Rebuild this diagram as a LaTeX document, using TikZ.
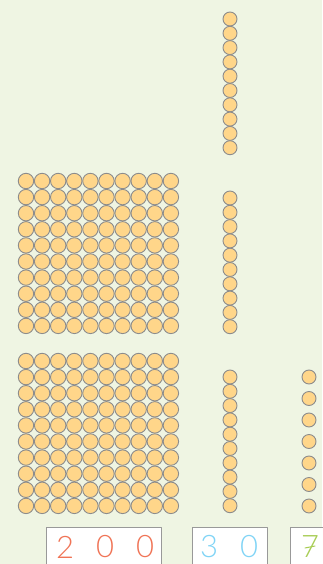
\documentclass[tikz,border=0pt]{standalone}
\usepackage{fontspec}
\setmainfont{Lato}[UprightFont=* Light]
\usetikzlibrary{positioning}
\definecolor{paper}{HTML}{EFF5E3}
\definecolor{bead}{HTML}{FFD68A}
\definecolor{beadline}{HTML}{8C8C8C}
\definecolor{hundreds}{HTML}{F07456}
\definecolor{tens}{HTML}{80D4F6}
\definecolor{ones}{HTML}{A8CD55}
\tikzset{
  bigbead/.style={fill=bead, draw=beadline, line width=0.9pt},
  smallbead/.style={fill=bead, draw=beadline, line width=0.9pt},
  card/.style={draw=black!40, fill=white, line width=0.7pt, inner sep=0pt},
  digit/.style={inner sep=0pt, font=\fontsize{31}{31}\selectfont}
}
\begin{document}
\begin{tikzpicture}[x=1pt,y=-1pt,line cap=round,line join=round]
  \fill[paper] (0,0) rectangle (322,564);
  \useasboundingbox (0,0) rectangle (322,564);

  % two hundred squares
  \foreach \top in {181,361}
    \foreach \i in {0,...,9}
      \foreach \j in {0,...,9}
        \draw[bigbead] ({26+16.1*\i},{\top+16.1*\j}) circle (7.7);

  % three ten rods
  \foreach \top in {19,198,377}
    \foreach \j in {0,...,9}
      \draw[smallbead] (230,{\top+14.3*\j}) circle (7);

  % seven ones
  \foreach \j in {0,...,6}
    \draw[smallbead] (309,{377+21.5*\j}) circle (7);

  % number cards
  \node[card, anchor=north west, minimum width=115pt, minimum height=50pt] (hcard) at (46,527) {};
  \node[card, anchor=north west, minimum width=75pt, minimum height=50pt] (tcard) at (192,527) {};
  \node[card, anchor=north west, minimum width=50pt, minimum height=50pt] (ocard) at (290,527) {};

  \node[digit, text=hundreds] (h1) at (65,547) {2};
  \node[digit, text=hundreds] (h2) at (105,547) {0};
  \node[digit, text=hundreds] (h3) at (145,547) {0};

  \node[digit, text=tens] (t1) at (209,547) {3};
  \node[digit, text=tens] (t2) at (249,547) {0};

  \node[digit, text=ones] (o1) at (310,547) {7};
  \draw[ones, line width=1pt] ([xshift=-5pt,yshift=-1pt]o1.center) -- ([xshift=5pt,yshift=1pt]o1.center);
\end{tikzpicture}
\end{document}
